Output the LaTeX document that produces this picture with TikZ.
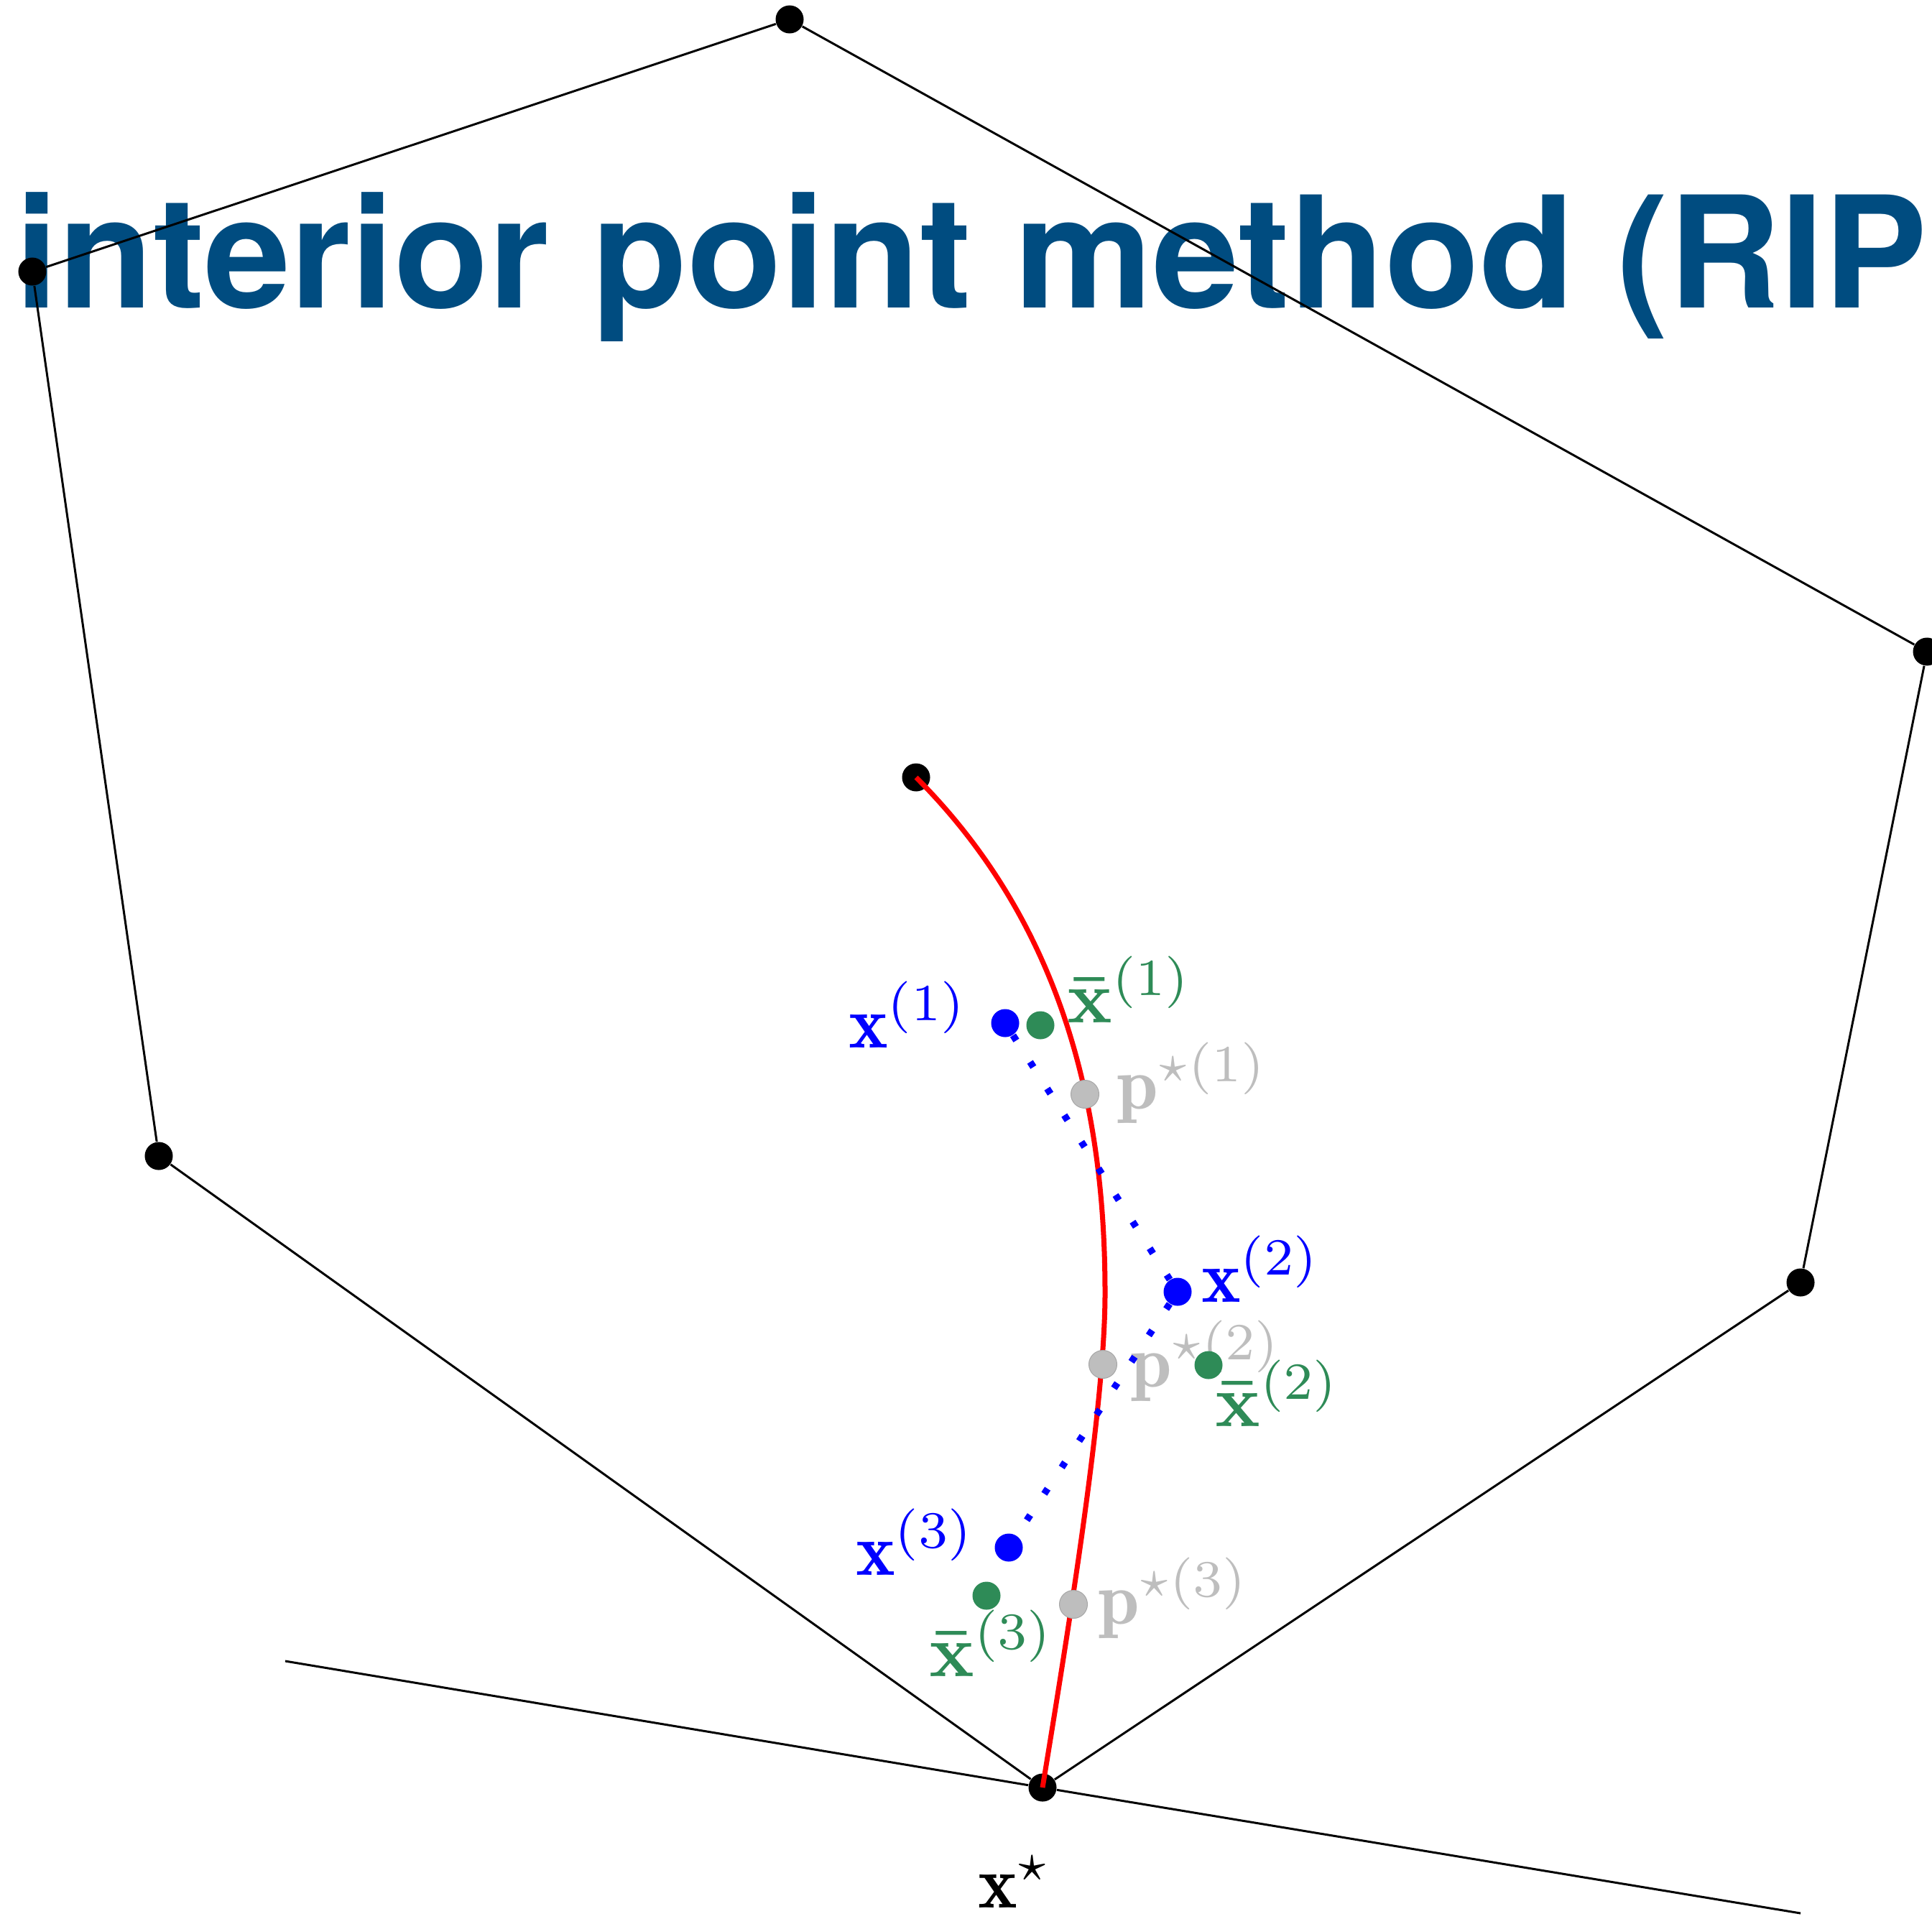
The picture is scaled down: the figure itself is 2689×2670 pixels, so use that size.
\documentclass[tikz,border=0pt]{standalone}
\usepackage{amsmath}
\usepackage{fontspec}
\newfontfamily\heros{TeX Gyre Heros}
\usetikzlibrary{positioning}
\definecolor{titleblue}{RGB}{0,76,128}
\definecolor{itergreen}{RGB}{46,139,87}
\definecolor{pathgray}{RGB}{190,190,190}

\begin{document}
\begin{tikzpicture}[
        x=0.01cm,y=-0.01cm,
        vtx/.style={circle,fill=black,inner sep=0pt,minimum size=0.39cm},
        itdot/.style={circle,inner sep=0pt,minimum size=0.39cm},
        edge/.style={line width=0.03cm},
        central/.style={red,line width=0.07cm},
        iterpath/.style={blue,line width=0.095cm,dash pattern=on 0.085cm off 0.355cm},
        lbl/.style={inner sep=0pt,anchor=base west,scale=2.95,transform shape},
        ttl/.style={inner sep=0pt,anchor=base west,text=titleblue,font=\heros\bfseries\fontsize{61.4}{68}\selectfont},
    ]
    \useasboundingbox (0,0) rectangle (2689,2670);
    \clip (0,0) rectangle (2689,2670);

    % === title (runs off the frame) ===
    \node[ttl] (title) at (21,429) {interior point method (RIP};

    % === feasible set ===
    \node[vtx] (v1) at (45,378) {};
    \node[vtx] (v2) at (1099,27) {};
    \node[vtx] (v3) at (2682,907) {};
    \node[vtx] (v4) at (2506,1785) {};
    \node[vtx] (xs) at (1451,2488) {};
    \node[vtx] (v6) at (221,1609) {};
    \coordinate (hl) at (397,2312);
    \coordinate (hr) at (2506,2663);
    \draw[edge] (v1) -- (v2) -- (v3) -- (v4) -- (xs) -- (v6) -- (v1);
    \draw[edge] (hl) -- (xs) -- (hr);

    % === central path ===
    \node[vtx] (x0) at (1275,1082) {};
    \coordinate (turn) at (1538,1800);
    \draw[central] (x0.center) .. controls +(221,221) and +(0,-221) .. (turn)
        .. controls +(0,150) and +(41,-250) .. (xs.center);

    % === labels ===
    \node[lbl,text=blue] (lx1) at (1179,1458) {$\mathbf{x}^{(1)}$};
    \node[lbl,text=blue] (lx2) at (1670,1812) {$\mathbf{x}^{(2)}$};
    \node[lbl,text=blue] (lx3) at (1189,2192) {$\mathbf{x}^{(3)}$};
    \node[lbl,text=pathgray] (lp1) at (1552,1543) {$\mathbf{p}^{\star(1)}$};
    \node[lbl,text=pathgray] (lp2) at (1571,1930) {$\mathbf{p}^{\star(2)}$};
    \node[lbl,text=pathgray] (lp3) at (1526,2260) {$\mathbf{p}^{\star(3)}$};
    \node[lbl,text=itergreen] (lb1) at (1483,1423) {$\boldsymbol{\bar{\mathbf{x}}}^{(1)}$};
    \node[lbl,text=itergreen] (lb2) at (1689,1985) {$\boldsymbol{\bar{\mathbf{x}}}^{(2)}$};
    \node[lbl,text=itergreen] (lb3) at (1291,2333) {$\boldsymbol{\bar{\mathbf{x}}}^{(3)}$};
    \node[lbl] (lxs) at (1359,2655) {$\mathbf{x}^{\star}$};

    % === iterates ===
    \node[itdot,fill=pathgray,draw=black!35,line width=0.01cm] (p1) at (1510,1523) {};
    \node[itdot,fill=pathgray,draw=black!35,line width=0.01cm] (p2) at (1535,1899) {};
    \node[itdot,fill=pathgray,draw=black!35,line width=0.01cm] (p3) at (1494,2233) {};
    \node[itdot,fill=blue] (x1) at (1399,1424) {};
    \node[itdot,fill=blue] (x2) at (1639,1798) {};
    \node[itdot,fill=blue] (x3) at (1404,2154) {};
    \node[itdot,fill=itergreen] (b1) at (1448,1427) {};
    \node[itdot,fill=itergreen] (b2) at (1682,1900) {};
    \node[itdot,fill=itergreen] (b3) at (1373,2221) {};
    \draw[iterpath] (x1) -- (x2) -- (x3);
\end{tikzpicture}
\end{document}
